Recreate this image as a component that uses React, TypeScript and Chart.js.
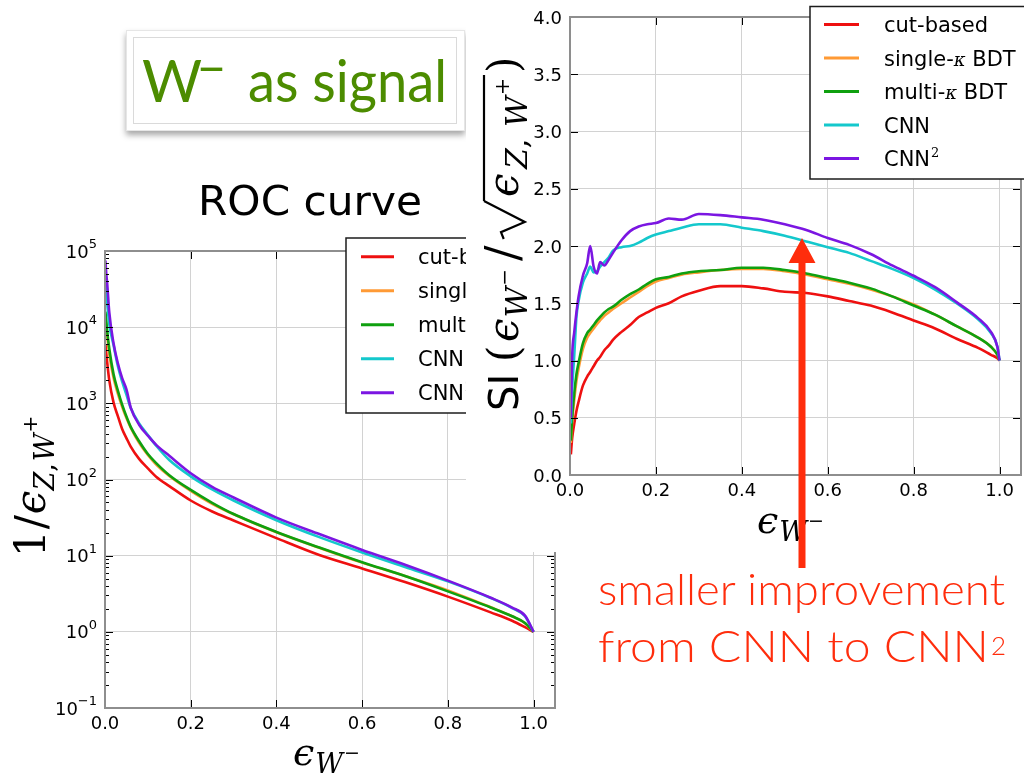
import React, { useEffect, useRef } from "react";
import { Chart, registerables } from "chart.js";

Chart.register(...registerables);

// ---------- series ----------
const seriesNames = ["cut-based", "single-κ BDT", "multi-κ BDT", "CNN", "CNN²"];
const seriesColors = ["#ee1010", "#ff9a35", "#0fa00f", "#14c8cc", "#7b16e2"];

// ROC: background rejection 1/eps_Z,W+ vs signal efficiency eps_W-
const rocEff = [0.001, 0.003, 0.005, 0.01, 0.02, 0.03, 0.04, 0.05, 0.06, 0.08, 0.1, 0.12, 0.15, 0.2, 0.25, 0.3, 0.4, 0.5, 0.6, 0.7, 0.8, 0.9, 0.95, 0.98, 1.0];
const rocCut = [6000, 4500, 3500, 2000, 1020, 680, 460, 350, 270, 185, 140, 108, 82, 53, 38, 29, 17, 10.2, 6.8, 4.5, 2.9, 1.8, 1.4, 1.15, 1.0];
const rocSingle = [15000, 11000, 8000, 4400, 2150, 1340, 900, 640, 480, 300, 210, 156, 111, 71, 48, 35, 20.3, 12.7, 8.1, 5.4, 3.5, 2.1, 1.6, 1.3, 1.0];
const rocMulti = [16000, 12000, 9000, 5200, 2400, 1470, 960, 670, 490, 315, 216, 163, 114, 73, 49.5, 35.2, 20.5, 12.8, 8.2, 5.4, 3.4, 2.09, 1.6, 1.31, 1.0];
const rocCnn = [40000, 28000, 21000, 11000, 5800, 3100, 1940, 1300, 870, 540, 384, 275, 180, 110, 74, 53, 29.2, 17.5, 11, 7.1, 4.6, 2.78, 2.05, 1.6, 1.0];
const rocCnn2 = [75000, 50000, 38000, 15600, 6100, 3360, 2140, 1520, 880, 520, 376, 283, 205, 121, 80, 58, 31.6, 19.2, 11.9, 7.6, 4.7, 2.8, 2.08, 1.63, 1.0];
const rocSeries = [rocCut, rocSingle, rocMulti, rocCnn, rocCnn2];

// Significance improvement eps_W- / sqrt(eps_Z,W+) vs eps_W-
const siEff = [0.002, 0.005, 0.01, 0.015, 0.02, 0.03, 0.04, 0.047, 0.055, 0.063, 0.07, 0.08, 0.09, 0.1, 0.12, 0.14, 0.16, 0.18, 0.2, 0.23, 0.26, 0.3, 0.35, 0.4, 0.45, 0.5, 0.55, 0.6, 0.65, 0.7, 0.75, 0.8, 0.85, 0.9, 0.95, 0.98, 0.995, 1.0];
const siCut = [0.18, 0.32, 0.45, 0.56, 0.64, 0.78, 0.86, 0.9, 0.95, 1.0, 1.03, 1.09, 1.13, 1.18, 1.25, 1.31, 1.38, 1.42, 1.46, 1.5, 1.56, 1.61, 1.65, 1.65, 1.63, 1.6, 1.59, 1.56, 1.52, 1.48, 1.42, 1.35, 1.28, 1.19, 1.11, 1.05, 1.02, 1.0];
const siSingle = [0.28, 0.46, 0.66, 0.82, 0.93, 1.1, 1.2, 1.24, 1.28, 1.32, 1.35, 1.39, 1.42, 1.45, 1.5, 1.55, 1.6, 1.65, 1.69, 1.72, 1.75, 1.77, 1.79, 1.8, 1.8, 1.78, 1.75, 1.71, 1.67, 1.62, 1.56, 1.49, 1.4, 1.3, 1.2, 1.12, 1.05, 1.0];
const siMulti = [0.3, 0.5, 0.72, 0.88, 0.98, 1.15, 1.24, 1.27, 1.31, 1.35, 1.38, 1.42, 1.45, 1.47, 1.53, 1.58, 1.62, 1.67, 1.71, 1.73, 1.76, 1.78, 1.79, 1.81, 1.81, 1.79, 1.76, 1.72, 1.68, 1.63, 1.56, 1.48, 1.4, 1.3, 1.2, 1.12, 1.05, 1.0];
const siCnn = [0.45, 0.75, 1.05, 1.38, 1.52, 1.68, 1.76, 1.82, 1.77, 1.78, 1.82, 1.86, 1.9, 1.96, 1.99, 2.0, 2.03, 2.07, 2.1, 2.13, 2.16, 2.19, 2.19, 2.16, 2.13, 2.09, 2.04, 1.99, 1.94, 1.87, 1.8, 1.72, 1.62, 1.5, 1.36, 1.24, 1.12, 1.0];
const siCnn2 = [0.5, 1.03, 1.25, 1.42, 1.56, 1.74, 1.85, 2.0, 1.82, 1.76, 1.86, 1.83, 1.88, 1.94, 2.05, 2.13, 2.17, 2.19, 2.2, 2.24, 2.23, 2.28, 2.27, 2.25, 2.23, 2.19, 2.14, 2.07, 2.01, 1.93, 1.83, 1.74, 1.64, 1.51, 1.37, 1.25, 1.12, 1.0];
const siSeries = [siCut, siSingle, siMulti, siCnn, siCnn2];

// ticks
const effTicks = [0, 0.2, 0.4, 0.6, 0.8, 1.0];
const rocDecades = [-1, 0, 1, 2, 3, 4, 5];
const siTicks = [0, 0.5, 1.0, 1.5, 2.0, 2.5, 3.0, 3.5, 4.0];

// ---------- styling ----------
const GRID = "#d2d2d2";
const SPINE = "#8e8e8e";
const RED = "#ff2d0c";
const GREEN = "#4c8c00";

const sans = (px: number) => `${px}px "DejaVu Sans", sans-serif`;
const mr = (px: number) => `${px}px "DejaVu Serif", serif`;
const mi = (px: number) => `italic ${px}px "DejaVu Serif", serif`;

// draws a run of text pieces along one baseline; supports a radical sign with overbar
// `at` places a piece at a fixed offset from the run's start
function drawSegs(ctx: CanvasRenderingContext2D, segs: any[], x0: number, y0: number) {
  let x = x0;
  let barFrom = x0;
  for (const s of segs) {
    if (s.at !== undefined) x = x0 + s.at;
    if (s.radical) {
      const h = s.radical;
      const w = s.w || 28;
      ctx.save();
      ctx.strokeStyle = ctx.fillStyle as string;
      ctx.lineWidth = 2.2;
      ctx.beginPath();
      ctx.moveTo(x, y0 - h * 0.42);
      ctx.lineTo(x + w * 0.18, y0 - h * 0.5);
      ctx.lineTo(x + w * 0.45, y0 + h * 0.2);
      ctx.lineTo(x + w, y0 - h);
      ctx.stroke();
      ctx.restore();
      barFrom = x + w;
      x += w + 2;
      continue;
    }
    if (s.barEnd) {
      ctx.save();
      ctx.strokeStyle = ctx.fillStyle as string;
      ctx.lineWidth = 2.2;
      ctx.beginPath();
      ctx.moveTo(barFrom, y0 - s.barEnd);
      ctx.lineTo(x, y0 - s.barEnd);
      ctx.stroke();
      ctx.restore();
      continue;
    }
    ctx.font = s.font;
    x += s.dx || 0;
    ctx.fillText(s.t, x, y0 + (s.dy || 0));
    x += ctx.measureText(s.t).width;
  }
  return x;
}

function legendSegs(name: string) {
  if (name.includes("κ")) {
    const [a, b] = name.split("κ");
    return [
      { t: a, font: sans(21) },
      { t: "κ", font: mi(18) },
      { t: b, font: sans(21) },
    ];
  }
  if (name.endsWith("²")) {
    return [
      { t: name.slice(0, -1), font: sans(21) },
      { t: "2", font: mr(13), dy: -9, dx: 1 },
    ];
  }
  return [{ t: name, font: sans(21) }];
}

function drawLegend(ctx: CanvasRenderingContext2D, bx: number, by: number, bw: number, bh: number, firstY: number, step: number, l0: number, l1: number, tx: number) {
  ctx.save();
  ctx.fillStyle = "#fff";
  ctx.fillRect(bx, by, bw, bh);
  ctx.strokeStyle = "#1c1c1c";
  ctx.lineWidth = 1.5;
  ctx.strokeRect(bx, by, bw, bh);
  seriesNames.forEach((name, i) => {
    const y = firstY + i * step;
    ctx.strokeStyle = seriesColors[i];
    ctx.lineWidth = 3;
    ctx.beginPath();
    ctx.moveTo(l0, y);
    ctx.lineTo(l1, y);
    ctx.stroke();
    ctx.fillStyle = "#000";
    ctx.textAlign = "left";
    ctx.textBaseline = "alphabetic";
    drawSegs(ctx, legendSegs(name), tx, y + 7.5);
  });
  ctx.restore();
}

function drawFrame(chart: any, xTicks: number[], yTicks: number[], yMinor: number[]) {
  const { ctx, chartArea: a } = chart;
  const xs = chart.scales.x;
  const ys = chart.scales.y;
  ctx.save();
  ctx.strokeStyle = "#000";
  ctx.lineWidth = 1;
  ctx.beginPath();
  for (const v of xTicks) {
    const p = Math.round(xs.getPixelForValue(v)) + 0.5;
    ctx.moveTo(p, a.bottom);
    ctx.lineTo(p, a.bottom - 8);
    ctx.moveTo(p, a.top);
    ctx.lineTo(p, a.top + 8);
  }
  for (const v of yTicks) {
    const p = Math.round(ys.getPixelForValue(v)) + 0.5;
    ctx.moveTo(a.left, p);
    ctx.lineTo(a.left + 8, p);
    ctx.moveTo(a.right, p);
    ctx.lineTo(a.right - 8, p);
  }
  for (const v of yMinor) {
    const p = Math.round(ys.getPixelForValue(v)) + 0.5;
    ctx.moveTo(a.left, p);
    ctx.lineTo(a.left + 4, p);
    ctx.moveTo(a.right, p);
    ctx.lineTo(a.right - 4, p);
  }
  ctx.stroke();
  ctx.strokeStyle = SPINE;
  ctx.lineWidth = 2;
  ctx.strokeRect(a.left, a.top, a.right - a.left, a.bottom - a.top);

  // x tick labels
  ctx.fillStyle = "#000";
  ctx.font = sans(18);
  ctx.textAlign = "center";
  ctx.textBaseline = "alphabetic";
  for (const v of xTicks) {
    ctx.fillText(v.toFixed(1), xs.getPixelForValue(v), a.bottom + 21);
  }
  ctx.restore();
}

const epsWLabel = [
  { t: "ϵ", font: mi(38) },
  { t: "W", font: mi(27), dy: 8, dx: 1 },
  { t: "−", font: mr(19), dy: -6, dx: 1 },
];

const rocYLabel = [
  { t: "1", font: mr(42) },
  { t: "/", font: mr(42), dx: 1 },
  { t: "ϵ", font: mi(42), dx: 1 },
  { t: "Z", font: mi(27), dy: 9 },
  { t: ",", font: mr(27), dy: 9 },
  { t: "W", font: mi(27), dy: 9, dx: 2 },
  { t: "+", font: mr(20), dy: -8, dx: 1 },
];

const siYLabel = [
  { t: "SI", font: sans(40), at: 0 },
  { t: "(", font: mr(42), at: 49 },
  { t: "ϵ", font: mi(42), at: 69 },
  { t: "W", font: mi(30), dy: 9, dx: 1 },
  { t: "−", font: mr(20), dy: -7, dx: 1 },
  { t: "/", font: mr(46), at: 150 },
  { radical: 34, w: 38, at: 172 },
  { t: "ϵ", font: mi(42), at: 214 },
  { t: "Z", font: mi(30), dy: 9, at: 242 },
  { t: ",", font: mr(30), dy: 9 },
  { t: "W", font: mi(30), dy: 9, at: 284 },
  { t: "+", font: mr(21), dy: -9, dx: 1 },
  { barEnd: 34, at: 336 },
  { t: ")", font: mr(42), at: 338 },
];

const rocMinor: number[] = [];
for (let e = -1; e < 5; e++) for (let k = 2; k <= 9; k++) rocMinor.push(k * Math.pow(10, e));

function makeDatasets(xs: number[], series: number[][]) {
  return series.map((vals, i) => ({
    label: seriesNames[i],
    data: xs.map((x, j) => ({ x, y: vals[j] })),
    borderColor: seriesColors[i],
    backgroundColor: seriesColors[i],
    borderWidth: 2.6,
    pointRadius: 0,
    fill: false,
    cubicInterpolationMode: "monotone" as const,
    order: series.length - i,
  }));
}

function RocChart() {
  const ref = useRef<HTMLCanvasElement>(null);
  useEffect(() => {
    const decorations = {
      id: "rocDecor",
      afterDatasetsDraw(chart: any) {
        const pows = rocDecades.map((e) => Math.pow(10, e));
        drawFrame(chart, effTicks, pows, rocMinor);
        const { ctx, chartArea: a } = chart;
        ctx.save();
        ctx.fillStyle = "#000";
        ctx.textBaseline = "alphabetic";
        for (const e of rocDecades) {
          const py = chart.scales.y.getPixelForValue(Math.pow(10, e));
          const sup = e < 0 ? "−" + Math.abs(e) : String(e);
          ctx.font = sans(13);
          const sw = ctx.measureText(sup).width;
          ctx.textAlign = "left";
          ctx.fillText(sup, a.left - 8 - sw, py - 3);
          ctx.font = sans(18);
          ctx.textAlign = "right";
          ctx.fillText("10", a.left - 8 - sw, py + 6.5);
        }
        ctx.restore();
      },
      afterDraw(chart: any) {
        const { ctx } = chart;
        drawLegend(ctx, 346, 8, 230, 175, 26.7, 34, 361, 394, 418);
        ctx.save();
        ctx.fillStyle = "#000";
        ctx.textAlign = "left";
        ctx.textBaseline = "alphabetic";
        drawSegs(ctx, epsWLabel, 293, 535);
        ctx.translate(45, 327);
        ctx.rotate(-Math.PI / 2);
        drawSegs(ctx, rocYLabel, 0, 0);
        ctx.restore();
      },
    };
    const chart = new Chart(ref.current!, {
      type: "line",
      data: { datasets: makeDatasets(rocEff, rocSeries) as any },
      options: {
        responsive: false,
        animation: false,
        devicePixelRatio: 1,
        layout: { padding: { top: 21, right: 5, left: 0, bottom: 0 } },
        plugins: { legend: { display: false }, tooltip: { enabled: false } },
        scales: {
          x: {
            type: "linear",
            min: 0,
            max: 1.05,
            afterFit: (s: any) => { s.height = 69; },
            afterBuildTicks: (s: any) => { s.ticks = effTicks.map((v) => ({ value: v })); },
            ticks: { display: false },
            grid: { color: GRID, lineWidth: 1, drawTicks: false },
            border: { display: false },
          },
          y: {
            type: "logarithmic",
            min: 0.1,
            max: 1e5,
            afterFit: (s: any) => { s.width = 105; },
            afterBuildTicks: (s: any) => { s.ticks = rocDecades.map((e) => ({ value: Math.pow(10, e) })); },
            ticks: { display: false },
            grid: { color: GRID, lineWidth: 1, drawTicks: false },
            border: { display: false },
          },
        },
      } as any,
      plugins: [decorations],
    });
    return () => chart.destroy();
  }, []);
  return <canvas ref={ref} width={560} height={547} style={{ position: "absolute", left: 0, top: 230 }} />;
}

function SiChart() {
  const ref = useRef<HTMLCanvasElement>(null);
  useEffect(() => {
    const decorations = {
      id: "siDecor",
      afterDatasetsDraw(chart: any) {
        drawFrame(chart, effTicks, siTicks, []);
        const { ctx, chartArea: a } = chart;
        ctx.save();
        ctx.fillStyle = "#000";
        ctx.font = sans(18);
        ctx.textAlign = "right";
        ctx.textBaseline = "alphabetic";
        for (const v of siTicks) {
          ctx.fillText(v.toFixed(1), a.left - 8, chart.scales.y.getPixelForValue(v) + 6.5);
        }
        ctx.restore();
      },
      afterDraw(chart: any) {
        const { ctx } = chart;
        drawLegend(ctx, 344, 6.5, 240, 172.5, 24.5, 33.5, 358, 393, 418);
        ctx.save();
        ctx.fillStyle = "#000";
        ctx.textAlign = "left";
        ctx.textBaseline = "alphabetic";
        drawSegs(ctx, epsWLabel, 291, 533);
        ctx.translate(52, 411);
        ctx.rotate(-Math.PI / 2);
        drawSegs(ctx, siYLabel, 0, 0);
        ctx.restore();
      },
    };
    const chart = new Chart(ref.current!, {
      type: "line",
      data: { datasets: makeDatasets(siEff, siSeries) as any },
      options: {
        responsive: false,
        animation: false,
        devicePixelRatio: 1,
        layout: { padding: { top: 17, right: 3, left: 0, bottom: 0 } },
        plugins: { legend: { display: false }, tooltip: { enabled: false } },
        scales: {
          x: {
            type: "linear",
            min: 0,
            max: 1.05,
            afterFit: (s: any) => { s.height = 77; },
            afterBuildTicks: (s: any) => { s.ticks = effTicks.map((v) => ({ value: v })); },
            ticks: { display: false },
            grid: { color: GRID, lineWidth: 1, drawTicks: false },
            border: { display: false },
          },
          y: {
            type: "linear",
            min: 0,
            max: 4,
            afterFit: (s: any) => { s.width = 104; },
            afterBuildTicks: (s: any) => { s.ticks = siTicks.map((v) => ({ value: v })); },
            ticks: { display: false },
            grid: { color: GRID, lineWidth: 1, drawTicks: false },
            border: { display: false },
          },
        },
      } as any,
      plugins: [decorations],
    });
    return () => chart.destroy();
  }, []);
  return (
    <canvas
      ref={ref}
      width={558}
      height={552}
      style={{ position: "absolute", left: 466, top: 0, background: "#fff" }}
    />
  );
}

export default function App() {
  return (
    <div style={{ position: "absolute", left: 0, top: 0, width: 1024, height: 777, overflow: "hidden", background: "#fff" }}>
      <div
        style={{
          position: "absolute",
          left: 126,
          top: 30,
          width: 337,
          height: 99,
          background: "#fff",
          border: "1px solid #e6e6e6",
          boxShadow: "0 4px 6px rgba(0,0,0,0.35)",
        }}
      >
        <div style={{ position: "absolute", left: 6, top: 6, width: 322, height: 85, border: "1px solid #dadada" }} />
      </div>
      <RocChart />
      <SiChart />
      <svg width={1024} height={777} style={{ position: "absolute", left: 0, top: 0, pointerEvents: "none" }}>
        <text x={142} y={102} fontFamily="Lato, sans-serif" fontSize={58} fill={GREEN}>W</text>
        <text x={197} y={86} fontFamily="Lato, sans-serif" fontSize={50} fill={GREEN}>−</text>
        <text x={248} y={102} fontFamily="Lato, sans-serif" fontSize={58} fill={GREEN} textLength={199} lengthAdjust="spacingAndGlyphs">as signal</text>
        <text x={198} y={215} fontFamily="'DejaVu Sans', sans-serif" fontSize={40} fill="#000" textLength={224} lengthAdjust="spacingAndGlyphs">ROC curve</text>
        <path d="M798.5 568 V263 H788.5 L802 238 L815.5 263 H805.5 V568 Z" fill={RED} />
        <text x={598} y={605} fontFamily="Lato, sans-serif" fontWeight={300} fontSize={44} fill={RED} textLength={407} lengthAdjust="spacingAndGlyphs">smaller improvement</text>
        <text x={598} y={662} fontFamily="Lato, sans-serif" fontWeight={300} fontSize={44} fill={RED} textLength={391} lengthAdjust="spacingAndGlyphs">from CNN to CNN</text>
        <text x={991} y={655} fontFamily="Lato, sans-serif" fontWeight={300} fontSize={26} fill={RED}>2</text>
      </svg>
    </div>
  );
}
